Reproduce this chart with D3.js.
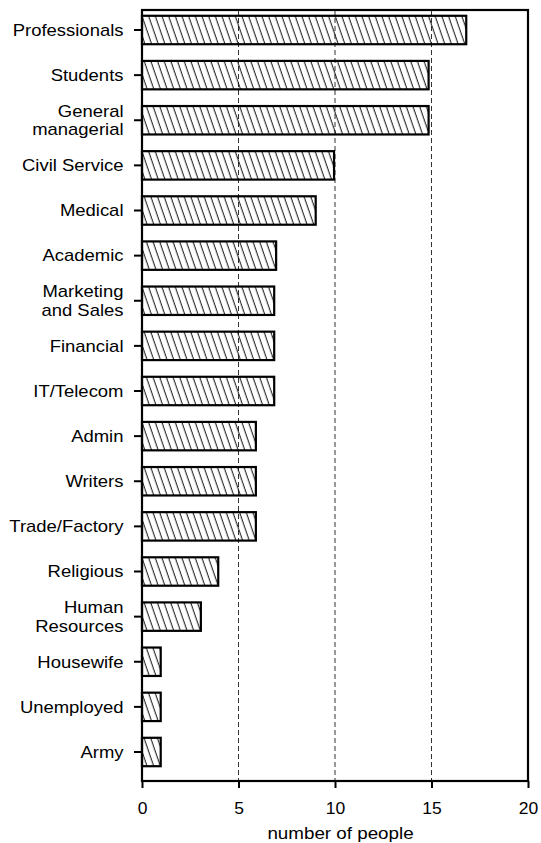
<!DOCTYPE html>
<html>
<head>
<meta charset="utf-8">
<script src="https://cdn.jsdelivr.net/npm/d3@7/dist/d3.min.js"></script>
<style>
  html, body { margin: 0; padding: 0; background: #fff; }
  svg { display: block; }
  text { font-family: "Liberation Sans", Arial, Helvetica, sans-serif; fill: #000; }
</style>
</head>
<body>
<svg id="chart" width="541" height="843"></svg>
<script>
const categories = ["Professionals", "Students", "General\nmanagerial", "Civil Service", "Medical",
  "Academic", "Marketing\nand Sales", "Financial", "IT/Telecom", "Admin", "Writers",
  "Trade/Factory", "Religious", "Human\nResources", "Housewife", "Unemployed", "Army"];
const values = [16.8, 14.85, 14.85, 9.95, 9.0, 6.95, 6.85, 6.85, 6.85, 5.9, 5.9, 5.9, 3.95, 3.05, 0.97, 0.97, 0.97];
const xTicks = [0, 5, 10, 15, 20];
const gridTicks = [5, 10, 15];
const xTitle = "number of people";

const FS = 16.2;
const SX = 1.14;
const svg = d3.select("#chart");
const L = 142, R = 528, T = 10, B = 781;

const x = d3.scaleLinear().domain([0, 20]).range([L, R]);
const y = d3.scaleBand().domain(categories).range([7.44, 774.56]).paddingInner(0.37).paddingOuter(0.185);

const defs = svg.append("defs");
const pat = defs.append("pattern")
  .attr("id", "hatch").attr("patternUnits", "userSpaceOnUse")
  .attr("width", 6.3).attr("height", 20)
  .attr("patternTransform", "rotate(-19)");
pat.append("line").attr("x1", 3).attr("y1", -2).attr("x2", 3).attr("y2", 22)
  .attr("stroke", "#111").attr("stroke-width", 1);

// gridlines
svg.append("g").selectAll("line").data(gridTicks).join("line")
  .attr("x1", d => x(d)).attr("x2", d => x(d))
  .attr("y1", T).attr("y2", B)
  .attr("stroke", "#333").attr("stroke-width", 1)
  .attr("stroke-dasharray", "5,3");

// bars
svg.append("g").selectAll("rect").data(values).join("rect")
  .attr("x", x(0))
  .attr("y", (d, i) => y(categories[i]))
  .attr("width", d => x(d) - x(0))
  .attr("height", y.bandwidth())
  .attr("fill", "url(#hatch)")
  .attr("stroke", "#000").attr("stroke-width", 2.2);

// frame
svg.append("rect").attr("x", L).attr("y", T).attr("width", R - L).attr("height", B - T)
  .attr("fill", "none").attr("stroke", "#000").attr("stroke-width", 2.2);

// x axis
const xAxis = d3.axisBottom(x).tickValues(xTicks).tickSize(7).tickPadding(0).tickFormat(d3.format("d"));
const gx = svg.append("g").attr("transform", `translate(0,${B})`).call(xAxis);
gx.select(".domain").remove();
gx.selectAll(".tick line").attr("stroke", "#000").attr("stroke-width", 2);
gx.selectAll(".tick text")
  .attr("font-size", FS).attr("font-family", "Liberation Sans, Arial, sans-serif")
  .attr("y", 0).attr("dy", null)
  .attr("transform", `translate(0,${814 - B}) scale(1.08,1)`);

// y axis
const yAxis = d3.axisLeft(y).tickSize(8).tickPadding(10).tickFormat("");
const gy = svg.append("g").attr("transform", `translate(${L},0)`).call(yAxis);
gy.select(".domain").remove();
gy.selectAll(".tick line").attr("stroke", "#000").attr("stroke-width", 2);
gy.selectAll(".tick").each(function(d) {
  const lines = d.split("\n");
  const t = d3.select(this).append("text")
    .attr("x", 0).attr("text-anchor", "end")
    .attr("transform", `translate(-18.5,0) scale(${SX},1)`)
    .attr("font-size", FS).attr("font-family", "Liberation Sans, Arial, sans-serif")
    .attr("fill", "#000");
  const lh = 18.5;
  lines.forEach((ln, k) => {
    t.append("tspan").attr("x", 0)
      .attr("y", (k - (lines.length - 1) / 2) * lh)
      .attr("dy", "0.36em").text(ln);
  });
});

svg.append("text")
  .attr("transform", `translate(340.5,839) scale(${SX + 0.02},1)`)
  .attr("x", 0).attr("y", 0)
  .attr("text-anchor", "middle").attr("font-size", FS).text(xTitle);
</script>
</body>
</html>
